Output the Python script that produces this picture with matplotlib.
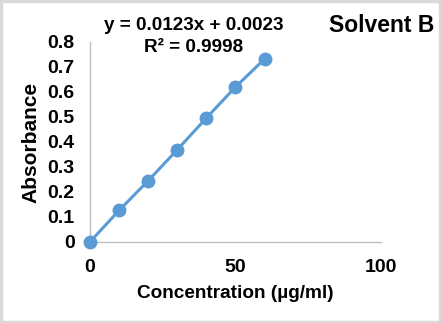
import numpy as np
import matplotlib.pyplot as plt
from matplotlib.patches import Rectangle

plt.rcParams['font.family'] = ['Liberation Sans', 'DejaVu Sans']
plt.rcParams['font.weight'] = 'bold'

# calibration data
conc = [0, 10, 20, 30, 40, 50, 60]
absorbance = [0, 0.126, 0.245, 0.369, 0.496, 0.62, 0.732]
x_ticks = [0, 50, 100]
y_ticks = [0, 0.1, 0.2, 0.3, 0.4, 0.5, 0.6, 0.7, 0.8]
y_tick_labels = ['0', '0.1', '0.2', '0.3', '0.4', '0.5', '0.6', '0.7', '0.8']

fig = plt.figure(figsize=(4.41, 3.23), dpi=100)
ax = fig.add_axes([0.204, 0.251, 0.660, 0.619])

ax.plot(conc, absorbance, color='#5B9BD5', lw=2.2, marker='o', ms=9,
        clip_on=False, zorder=3)

ax.set_xlim(0, 100)
ax.set_ylim(0, 0.8)
ax.set_xticks(x_ticks)
ax.set_yticks(y_ticks)
ax.set_yticklabels(y_tick_labels)
ax.tick_params(length=0, labelsize=14, pad=11)
ax.tick_params(axis='x', pad=12)
for lab in ax.get_xticklabels() + ax.get_yticklabels():
    lab.set_fontweight('bold')

for side in ['top', 'right']:
    ax.spines[side].set_visible(False)
for side in ['left', 'bottom']:
    ax.spines[side].set_color('#BFBFBF')
    ax.spines[side].set_linewidth(1.0)

ax.set_ylabel('Absorbance', fontsize=15, fontweight='bold', labelpad=5)
ax.set_xlabel('Concentration (µg/ml)', fontsize=13.7, fontweight='bold', labelpad=7)

fig.text(194 / 441, 1 - 26 / 323, 'y = 0.0123x + 0.0023', ha='center', va='center',
         fontsize=13.6, fontweight='bold')
fig.text(194 / 441, 1 - 47 / 323, 'R² = 0.9998', ha='center', va='center',
         fontsize=13.6, fontweight='bold')
fig.text(434 / 441, 1 - 26 / 323, 'Solvent B', ha='right', va='center',
         fontsize=16.5, fontweight='bold')

# outer frame
fig.patches.append(Rectangle((0.003, 0.004), 0.994, 0.992, transform=fig.transFigure,
                             fill=False, edgecolor='#D9D9D9', linewidth=2.5))

fig.savefig('out.png', dpi=100)
